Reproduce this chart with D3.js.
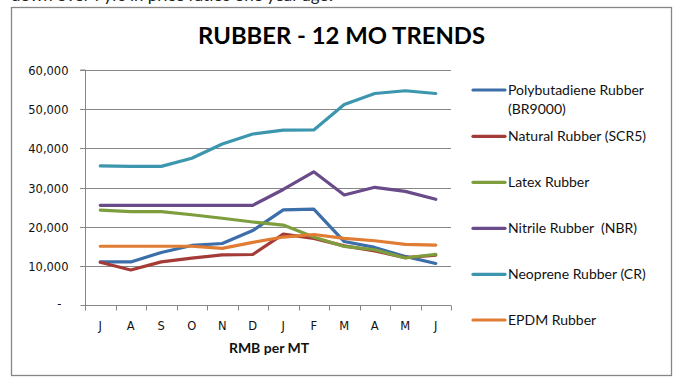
<!DOCTYPE html>
<html><head><meta charset="utf-8">
<script src="https://cdn.jsdelivr.net/npm/d3@7"></script>
<style>
html,body{margin:0;padding:0;background:#fff;}
svg{display:block;}
text{white-space:pre;}
</style></head>
<body>
<svg id="chart" width="678" height="385"></svg>
<script>
const months = ["J","A","S","O","N","D","J","F","M","A","M","J"];
const yTicks = [0,10000,20000,30000,40000,50000,60000];
const seriesNames = ["Polybutadiene Rubber (BR9000)","Natural Rubber (SCR5)","Latex Rubber","Nitrile Rubber  (NBR)","Neoprene Rubber (CR)","EPDM Rubber"];
const polybutadiene = [11000, 11000, 13400, 15200, 15700, 19000, 24300, 24500, 16200, 14700, 12400, 10600];
const natural       = [10900, 8950, 11000, 11950, 12800, 12900, 18100, 17000, 15100, 13800, 12100, 12700];
const latex         = [24200, 23850, 23850, 23050, 22150, 21200, 20400, 17350, 14950, 14100, 12000, 12950];
const nitrile       = [25450, 25450, 25450, 25450, 25450, 25450, 29500, 34000, 28100, 30050, 29000, 27000];
const neoprene      = [35500, 35400, 35400, 37450, 41100, 43650, 44650, 44700, 51200, 54000, 54700, 54000];
const epdm          = [15000, 15000, 15000, 15000, 14450, 16000, 17350, 18000, 17000, 16400, 15500, 15300];
const colors = ["#3C6EA9","#A53B37","#7E9E3E","#694B8A","#3B96AE","#E07C33"];
const seriesData = [polybutadiene, natural, latex, nitrile, neoprene, epdm];

const svg = d3.select("#chart");
const grey = "#868686";

// partially visible document text above the chart (cut off by the page edge, as in the reference)
svg.append("text").attr("x", 11).attr("y", 1)
  .attr("font-family", "Lato, 'Open Sans', sans-serif").attr("font-size", 15)
  .attr("fill", "#222").attr("textLength", 322).attr("lengthAdjust", "spacingAndGlyphs")
  .text("down over 7yrs in price ratios one year ago.");

// chart border
svg.append("rect").attr("x", 11.5).attr("y", 7.5).attr("width", 660).attr("height", 368)
  .attr("fill", "#fff").attr("stroke", grey).attr("stroke-width", 1.3);

// title
svg.append("text").attr("x", 341.5).attr("y", 44).attr("text-anchor", "middle")
  .attr("font-family", "Lato, sans-serif").attr("font-weight", "bold").attr("font-size", 23)
  .attr("fill", "#000").attr("textLength", 287).attr("lengthAdjust", "spacingAndGlyphs")
  .text("RUBBER - 12 MO TRENDS");

const x = d3.scaleBand().domain(d3.range(months.length)).range([85, 451]);
const y = d3.scaleLinear().domain([0, 60000]).range([305, 70]);

// gridlines
svg.append("g").selectAll("line").data(yTicks.filter(d => d > 0)).join("line")
  .attr("x1", 80).attr("x2", 451).attr("y1", d => Math.round(y(d)) + 0.5).attr("y2", d => Math.round(y(d)) + 0.5)
  .attr("stroke", grey).attr("stroke-width", 1);

// y axis
const yAxis = d3.axisLeft(y).tickValues(yTicks).tickSize(5).tickPadding(12)
  .tickFormat(d => d === 0 ? "-" : d3.format(",")(d));
const gy = svg.append("g").attr("transform", "translate(85.5,0)").call(yAxis);
gy.select(".domain").attr("stroke", grey).attr("d", `M-5,${y(60000)}H0V${y(0)}`);
gy.selectAll(".tick line").attr("stroke", grey);
gy.selectAll(".tick").attr("transform", d => `translate(0,${Math.round(y(d)) + 0.5})`);
gy.selectAll(".tick text").attr("font-family", "'DejaVu Sans', Verdana, sans-serif").attr("font-size", 11.5)
  .attr("fill", "#111").attr("dy", "0.35em");
gy.selectAll(".tick text").filter(d => d === 0).attr("x", -24).attr("dy", "0.2em");

// x axis
const xAxis = d3.axisBottom(x).tickSize(0).tickPadding(16).tickFormat(i => months[i]);
const gx = svg.append("g").attr("transform", "translate(0,305.5)").call(xAxis);
gx.select(".domain").attr("stroke", grey).attr("d", "M85,0H451");
gx.selectAll(".tick text").attr("font-family", "'DejaVu Sans', Verdana, sans-serif").attr("font-size", 11.5)
  .attr("fill", "#111");
// category boundary tick marks
gx.append("g").selectAll("line").data(d3.range(months.length + 1)).join("line")
  .attr("x1", i => Math.round(85 + i * x.step()) + 0.5).attr("x2", i => Math.round(85 + i * x.step()) + 0.5)
  .attr("y1", 0).attr("y2", 5).attr("stroke", grey);

// axis title
svg.append("text").attr("x", 269).attr("y", 353).attr("text-anchor", "middle")
  .attr("font-family", "Lato, sans-serif").attr("font-weight", "bold").attr("font-size", 14)
  .attr("fill", "#111").text("RMB per MT");

// lines
const line = d3.line().x((d, i) => x(i) + x.bandwidth() / 2).y(d => y(d));
svg.append("g").selectAll("path").data(seriesData).join("path")
  .attr("d", d => line(d)).attr("fill", "none")
  .attr("stroke", (d, i) => colors[i]).attr("stroke-width", 3.2)
  .attr("stroke-linejoin", "round").attr("stroke-linecap", "round");

// legend
const legendY = [90, 136.3, 182.3, 228.3, 274.3, 320];
const lg = svg.append("g");
seriesNames.forEach((name, i) => {
  lg.append("line").attr("x1", 473).attr("x2", 505).attr("y1", legendY[i]).attr("y2", legendY[i])
    .attr("stroke", colors[i]).attr("stroke-width", 3.2).attr("stroke-linecap", "round");
  const t = lg.append("text").attr("x", 508).attr("y", legendY[i]).attr("dy", "0.35em")
    .attr("font-family", "Lato, sans-serif").attr("font-size", 14).attr("fill", "#111");
  if (i === 0) {
    t.append("tspan").attr("x", 508).text("Polybutadiene Rubber");
    t.append("tspan").attr("x", 508).attr("dy", 19).text("(BR9000)");
  } else {
    t.text(name);
  }
});
</script>
</body></html>
